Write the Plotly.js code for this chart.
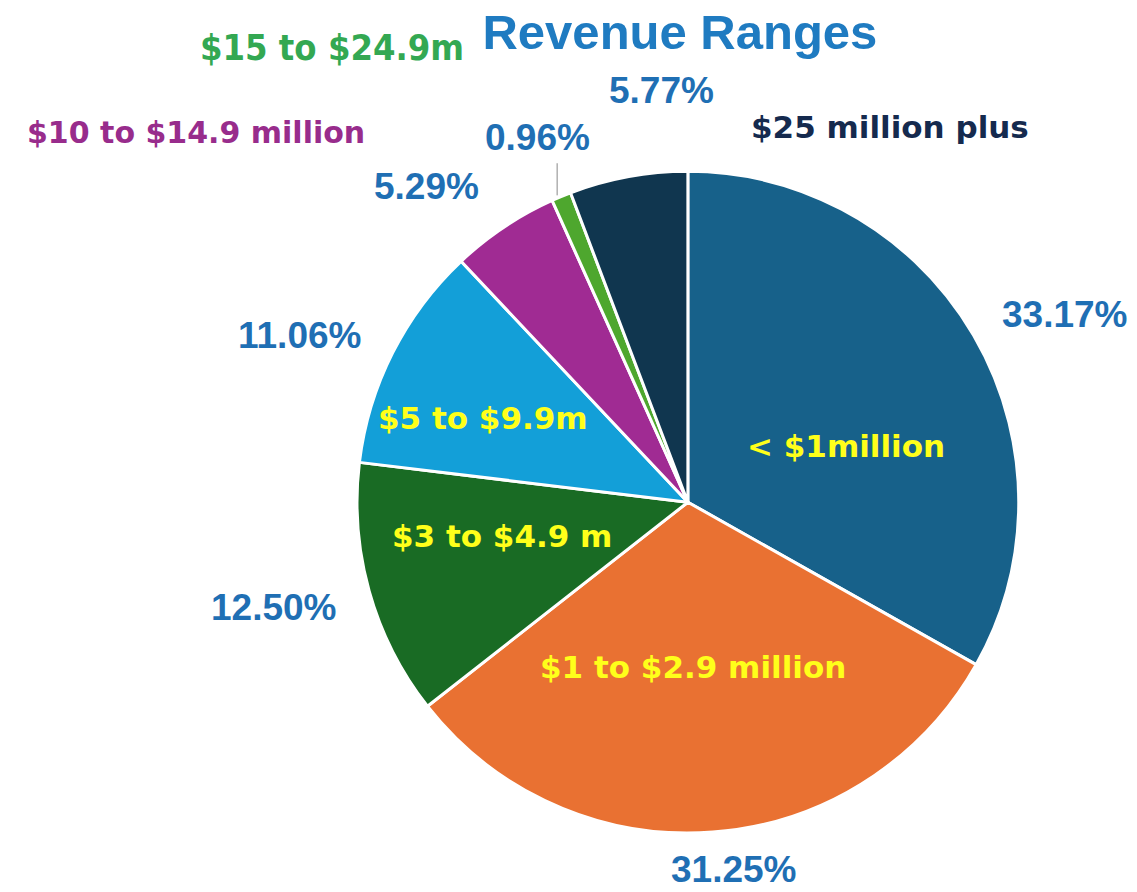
<!DOCTYPE html>
<html>
<head>
<meta charset="utf-8">
<script src="https://cdn.plot.ly/plotly-3.0.1.min.js"></script>
<style>
  html, body { margin: 0; padding: 0; background: #ffffff; }
  #revenue-pie { width: 1137px; height: 892px; }
</style>
</head>
<body>
<div id="revenue-pie"></div>
<script>
// slices, clockwise from 12 o'clock
var rangeNames = ['< $1million', '$1 to $2.9 million', '$3 to $4.9 m', '$5 to $9.9m',
                  '$10 to $14.9 million', '$15 to $24.9m', '$25 million plus'];
var rangeShares = [33.17, 31.25, 12.50, 11.06, 5.29, 0.96, 5.77];
var sliceColors = ['#17618A', '#E97132', '#196B24', '#139FD8', '#A02B93', '#4EA72E', '#10364F'];

// colour of each name label (yellow inside the slice, slice-ish colour outside)
var nameColors = ['#FFFF1A', '#FFFF1A', '#FFFF1A', '#FFFF1A', '#982C8C', '#33A852', '#152A4E'];

var wide = 'DejaVu Sans, Verdana, sans-serif';
var arial = 'Liberation Sans, Arial, sans-serif';
var narrow = 'DejaVu Sans Condensed, sans-serif';
var pctBlue = '#1F6FB4';

var pie = {
  type: 'pie',
  values: rangeShares,
  labels: rangeNames,
  textinfo: 'none',
  sort: false,
  direction: 'clockwise',
  rotation: 0,
  marker: { colors: sliceColors, line: { color: '#ffffff', width: 3 } },
  domain: { x: [0.314, 0.896], y: [0.066, 0.808] },
  hoverinfo: 'label+percent',
  showlegend: false
};

// label spots, in paper fractions
var pctSpots = [[0.9367, 0.6469], [0.6456, 0.0250], [0.2410, 0.3195], [0.2630, 0.6244],
                [0.3755, 0.7904], [0.4723, 0.8464], [0.5814, 0.8991]];
var nameSpots = [[0.7441, 0.5000], [0.6095, 0.2522], [0.4415, 0.3991], [0.4248, 0.5314],
                 [0.1724, 0.8520], [0.2920, 0.9473], [0.7828, 0.8576]];

var notes = rangeShares.map((v, i) => ({
  xref: 'paper', yref: 'paper', x: pctSpots[i][0], y: pctSpots[i][1],
  xanchor: 'center', yanchor: 'middle',
  text: v.toFixed(2) + '%', showarrow: false,
  font: { family: arial, size: 37, color: pctBlue, weight: 'bold' }
}));
rangeNames.forEach((n, i) => {
  notes.push({
    xref: 'paper', yref: 'paper', x: nameSpots[i][0], y: nameSpots[i][1],
    xanchor: 'center', yanchor: 'middle',
    text: n, showarrow: false,
    font: { family: i == 5 ? narrow : wide, size: i == 5 ? 36 : (i == 4 ? 30 : 31),
            color: nameColors[i], weight: 'bold' }
  });
});

var layout = {
  title: {
    text: 'Revenue Ranges',
    font: { family: arial, size: 49, color: '#1F7BC1', weight: 'bold' },
    x: 0.598, xanchor: 'center', y: 0.964, yanchor: 'middle'
  },
  width: 1137,
  height: 892,
  margin: { l: 0, r: 0, t: 0, b: 0 },
  paper_bgcolor: '#ffffff',
  annotations: notes,
  shapes: [{ type: 'line', xref: 'paper', yref: 'paper', x0: 0.490, x1: 0.490, y0: 0.817, y1: 0.781,
             line: { color: '#888888', width: 1 } }]
};

Plotly.newPlot('revenue-pie', [pie], layout, { displayModeBar: false });
</script>
</body>
</html>
